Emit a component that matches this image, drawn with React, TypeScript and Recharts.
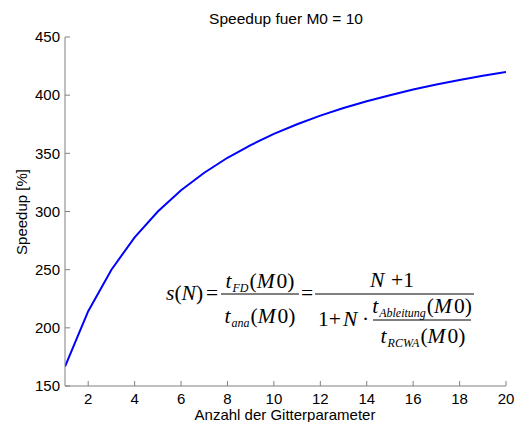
import React from 'react';
import { LineChart, Line, XAxis, YAxis } from 'recharts';

const gitterParameter = [1, 2, 3, 4, 5, 6, 7, 8, 9, 10, 11, 12, 13, 14, 15, 16, 17, 18, 19, 20];
const speedup = [166.7, 214.3, 250.0, 277.8, 300.0, 318.2, 333.3, 346.2, 357.1, 366.7, 375.0, 382.4, 388.9, 394.7, 400.0, 404.8, 409.1, 413.0, 416.7, 420.0];
const xTicks = [2, 4, 6, 8, 10, 12, 14, 16, 18, 20];
const yTicks = [150, 200, 250, 300, 350, 400, 450];

const data = gitterParameter.map((n, i) => ({ n, s: speedup[i] }));

const AXIS = '#808080';
const SANS = '"Liberation Sans", Arial, Helvetica, sans-serif';
const SERIF = '"Liberation Serif", "Times New Roman", serif';

const it = { fontStyle: 'italic' as const };

function TTerm({ cx, y, sub }: { cx: number; y: number; sub: string }) {
  // t_sub(M0), centred at cx
  return (
    <text x={cx} y={y} textAnchor="middle">
      <tspan {...it}>t</tspan>
      <tspan {...it} fontSize={12} dx={1} dy={4}>{sub}</tspan>
      <tspan dx={1} dy={-4}>(</tspan>
      <tspan {...it}>M</tspan>
      <tspan dx={2}>0)</tspan>
    </text>
  );
}

export default function App() {
  return (
    <div style={{ position: 'absolute', left: 0, top: 0, width: 521, height: 422, background: '#fff' }}>
      <LineChart
        width={521}
        height={422}
        data={data}
        margin={{ top: 37, right: 15, bottom: 6, left: 15 }}
      >
        <XAxis
          dataKey="n"
          type="number"
          domain={[1, 20]}
          ticks={xTicks}
          allowDataOverflow
          height={30}
          stroke={AXIS}
          tickSize={-5}
          tickMargin={12}
          tick={{ fill: '#000', fontSize: 15, fontFamily: SANS }}
        />
        <XAxis
          xAxisId="top"
          orientation="top"
          dataKey="n"
          type="number"
          domain={[1, 20]}
          ticks={xTicks}
          allowDataOverflow
          height={0}
          stroke={AXIS}
          tickSize={-5}
          tickFormatter={() => ''}
        />
        <YAxis
          type="number"
          domain={[150, 450]}
          ticks={yTicks}
          allowDataOverflow
          width={50}
          stroke={AXIS}
          tickSize={-5}
          tickMargin={10}
          tick={{ fill: '#000', fontSize: 15, fontFamily: SANS }}
        />
        <YAxis
          yAxisId="right"
          orientation="right"
          type="number"
          domain={[150, 450]}
          ticks={yTicks}
          allowDataOverflow
          width={0}
          stroke={AXIS}
          tickSize={-5}
          tickFormatter={() => ''}
        />
        <Line
          type="linear"
          dataKey="s"
          stroke="#0000ff"
          strokeWidth={2}
          dot={false}
          isAnimationActive={false}
        />
      </LineChart>
      <svg
        width={521}
        height={422}
        style={{ position: 'absolute', left: 0, top: 0, pointerEvents: 'none' }}
      >
        <text x={286} y={24} textAnchor="middle" fontSize={15.5} fontFamily={SANS} fill="#000">
          Speedup fuer M0 = 10
        </text>
        <text x={285} y={420} textAnchor="middle" fontSize={15} fontFamily={SANS} fill="#000">
          Anzahl der Gitterparameter
        </text>
        <text
          x={0}
          y={0}
          transform="translate(27,212) rotate(-90)"
          textAnchor="middle"
          fontSize={15}
          fontFamily={SANS}
          fill="#000"
        >
          Speedup [%]
        </text>

        <g fontFamily={SERIF} fill="#000" fontSize={21.5}>
          <text x={166} y={300}>
            <tspan {...it}>s</tspan>(<tspan {...it}>N</tspan>)
          </text>
          <text x={206} y={300}>=</text>
          <TTerm cx={260} y={288} sub="FD" />
          <line x1={221} x2={299} y1={294} y2={294} stroke="#000" strokeWidth={1} />
          <TTerm cx={260} y={323} sub="ana" />
          <text x={301} y={300}>=</text>
          <text x={370} y={287} {...it}>N</text>
          <text x={391} y={287}>+1</text>
          <line x1={315} x2={474} y1={294} y2={294} stroke="#000" strokeWidth={1} />
          <text x={318} y={326}>1+</text>
          <text x={343} y={326} {...it}>N</text>
          <text x={362} y={326}>·</text>
          <TTerm cx={422} y={313} sub="Ableitung" />
          <line x1={373} x2={471} y1={320} y2={320} stroke="#000" strokeWidth={1} />
          <TTerm cx={423} y={343} sub="RCWA" />
        </g>
      </svg>
    </div>
  );
}
